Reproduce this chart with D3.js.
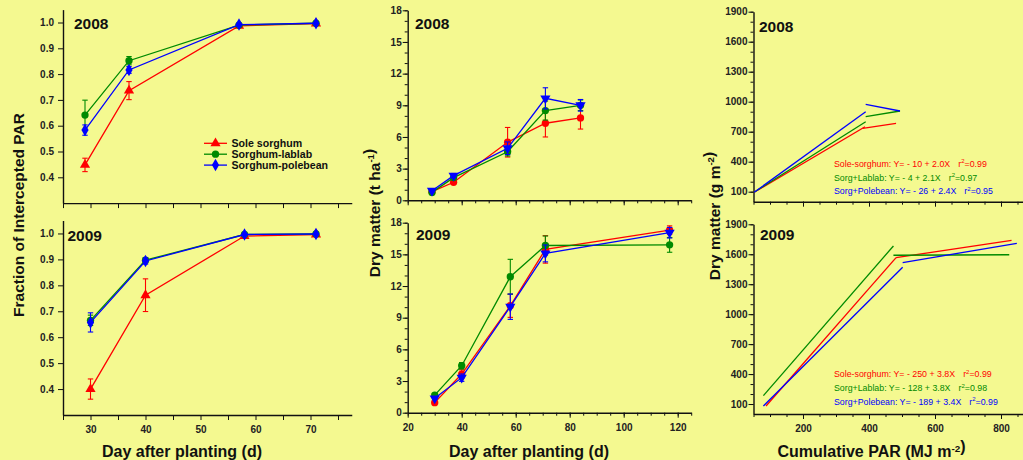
<!DOCTYPE html>
<html>
<head>
<meta charset="utf-8">
<script src="https://cdn.jsdelivr.net/npm/d3@7"></script>
<style>
  body { margin: 0; background: #f4f990; }
  svg { display: block; font-family: Arial, "Liberation Sans", sans-serif; }
</style>
</head>
<body>
<svg id="chart" width="1023" height="460"></svg>
<script>
// fraction of intercepted PAR
const dapFI2008 = [29, 37, 57, 71];
const dapFI2009 = [30, 40, 58, 71];
const fiSole2008 = [0.448, 0.736, 0.987, 0.996];
const fiSoleErr2008 = [0.026, 0.035, 0.004, 0.002];
const fiLablab2008 = [0.641, 0.852, 0.990, 0.997];
const fiLablabErr2008 = [0.058, 0.016, 0.004, 0.002];
const fiPole2008 = [0.583, 0.816, 0.992, 0.997];
const fiPoleErr2008 = [0.020, 0.013, 0.004, 0.002];
const fiSole2009 = [0.400, 0.762, 0.990, 0.996];
const fiSoleErr2009 = [0.039, 0.063, 0.004, 0.002];
const fiLablab2009 = [0.665, 0.897, 0.996, 0.998];
const fiLablabErr2009 = [0.020, 0.010, 0.003, 0.002];
const fiPole2009 = [0.657, 0.894, 0.996, 0.998];
const fiPoleErr2009 = [0.037, 0.012, 0.003, 0.002];

// dry matter (t/ha)
const dapDM2008 = [29, 37, 57, 71, 84];
const dapDM2009 = [30, 40, 58, 71, 117];
const dmSole2008 = [0.82, 1.71, 5.5, 7.3, 7.8];
const dmSoleErr2008 = [0.1, 0.15, 1.4, 1.3, 1.05];
const dmLablab2008 = [0.75, 2.15, 4.6, 8.5, 9.0];
const dmLablabErr2008 = [0.1, 0.2, 0.4, 0.9, 0.5];
const dmPole2008 = [0.9, 2.34, 4.93, 9.66, 9.0];
const dmPoleErr2008 = [0.1, 0.2, 0.6, 1.0, 0.55];
const dmSole2009 = [0.95, 3.66, 10.13, 15.47, 17.3];
const dmSoleErr2009 = [0.1, 0.4, 1.1, 1.3, 0.4];
const dmLablab2009 = [1.67, 4.45, 12.88, 15.84, 15.9];
const dmLablabErr2009 = [0.1, 0.3, 1.65, 0.9, 0.7];
const dmPole2009 = [1.36, 3.32, 10.04, 15.09, 17.05];
const dmPoleErr2009 = [0.1, 0.35, 1.2, 0.8, 0.5];

// fitted dry matter (g/m2) vs cumulative PAR, two segments each [PAR, DM]
const rueSole2008 = [[[52, 94], [388, 750]], [[381, 734], [482, 784]]];
const rueLablab2008 = [[[52, 94], [390, 800]], [[390, 850], [494, 907]]];
const ruePole2008 = [[[52, 94], [390, 900]], [[390, 974], [494, 907]]];
const rueSole2009 = [[[88, 80], [482, 1566]], [[482, 1566], [832, 1740]]];
const rueLablab2009 = [[[80, 184], [474, 1683]], [[474, 1590], [825, 1595]]];
const ruePole2009 = [[[80, 80], [502, 1469]], [[502, 1516], [848, 1710]]];

const eq2008 = ['Sole-sorghum: Y= - 10 + 2.0X', 'Sorg+Lablab: Y= - 4 + 2.1X', 'Sorg+Polebean: Y= - 26 + 2.4X'];
const r2008 = ['0.99', '0.97', '0.95'];
const eq2009 = ['Sole-sorghum: Y= - 250 + 3.8X', 'Sorg+Lablab: Y= - 128 + 3.8X', 'Sorg+Polebean: Y= - 189 + 3.4X'];
const r2009 = ['0.99', '0.98', '0.99'];

const legendNames = ['Sole sorghum', 'Sorghum-lablab', 'Sorghum-polebean'];
const colors = ['#ff0000', '#008a00', '#0000ff'];

const svg = d3.select('#chart');
svg.append('rect').attr('width', 1023).attr('height', 460).attr('fill', '#f4f990');

function addAxis(x, y, side, major, minor, fmt, labelled, pad) {
  const scale = side === 'left' ? y : x;
  const make = side === 'left' ? d3.axisLeft : d3.axisBottom;
  const tr = side === 'left' ? `translate(${x.range()[0]},0)` : `translate(0,${y.range()[0]})`;
  if (minor) {
    const gm = svg.append('g').attr('transform', tr)
      .call(make(scale).tickValues(minor).tickSize(3).tickFormat(''));
    gm.select('.domain').remove();
    gm.selectAll('line').attr('stroke', '#111');
  }
  const g = svg.append('g').attr('transform', tr)
    .call(make(scale).tickValues(major).tickSize(5).tickSizeOuter(0)
      .tickPadding(pad).tickFormat(labelled ? fmt : () => ''));
  g.select('.domain').attr('stroke', '#111').attr('stroke-width', 1.4);
  g.selectAll('line').attr('stroke', '#111');
  g.selectAll('text').attr('font-size', 10).attr('font-weight', 'bold')
    .attr('fill', '#222').attr('font-family', 'Arial, "Liberation Sans", sans-serif');
}

const symbols = {
  tri: d3.symbol().type(d3.symbolTriangle).size(45),
  triDown: d3.symbol().type(d3.symbolTriangle).size(45),
  circle: d3.symbol().type(d3.symbolCircle).size(42),
  diamond: d3.symbol().type(d3.symbolDiamond).size(45)
};

function drawSeries(x, y, days, vals, errs, color, sym) {
  const pts = days.map((d, i) => ({ d: d, v: vals[i], e: errs[i] }));
  const g = svg.append('g');
  g.append('path').datum(pts)
    .attr('fill', 'none').attr('stroke', color).attr('stroke-width', 1.3)
    .attr('d', d3.line().x(p => x(p.d)).y(p => y(p.v)));
  const eb = g.selectAll('g.err').data(pts).enter().append('g')
    .attr('stroke', color).attr('stroke-width', 1.1);
  eb.append('line').attr('x1', p => x(p.d)).attr('x2', p => x(p.d))
    .attr('y1', p => y(p.v - p.e)).attr('y2', p => y(p.v + p.e));
  eb.append('line').attr('x1', p => x(p.d) - 2.7).attr('x2', p => x(p.d) + 2.7)
    .attr('y1', p => y(p.v - p.e)).attr('y2', p => y(p.v - p.e));
  eb.append('line').attr('x1', p => x(p.d) - 2.7).attr('x2', p => x(p.d) + 2.7)
    .attr('y1', p => y(p.v + p.e)).attr('y2', p => y(p.v + p.e));
  g.selectAll('path.m').data(pts).enter().append('path')
    .attr('d', symbols[sym]).attr('fill', color)
    .attr('transform', p => `translate(${x(p.d)},${y(p.v)})${sym === 'triDown' ? ' rotate(180)' : ''}`);
}

function yearLabel(txt, px, py) {
  svg.append('text').attr('x', px).attr('y', py).text(txt)
    .attr('font-size', 15.5).attr('font-weight', 'bold').attr('fill', '#111');
}

// ---- column 1: fraction of intercepted PAR
const xFI = d3.scaleLinear().domain([25, 77.5]).range([63, 351.75]);
const yFItop = d3.scaleLinear().domain([0.3, 1.05]).range([203.1, 9.6]);
const yFIbot = d3.scaleLinear().domain([0.3, 1.05]).range([415, 220.5]);
const fiTicks = [0.4, 0.5, 0.6, 0.7, 0.8, 0.9, 1.0];
const fiXTicks = d3.range(25, 80, 5);
[[yFItop, false], [yFIbot, true]].forEach(([y, lab]) => {
  addAxis(xFI, y, 'left', fiTicks, null, d3.format('.1f'), true, 4);
  addAxis(xFI, y, 'bottom', fiXTicks, null, d => (d % 10 === 0 ? d : ''), lab, 6);
});
drawSeries(xFI, yFItop, dapFI2008, fiSole2008, fiSoleErr2008, colors[0], 'tri');
drawSeries(xFI, yFItop, dapFI2008, fiLablab2008, fiLablabErr2008, colors[1], 'circle');
drawSeries(xFI, yFItop, dapFI2008, fiPole2008, fiPoleErr2008, colors[2], 'diamond');
drawSeries(xFI, yFIbot, dapFI2009, fiSole2009, fiSoleErr2009, colors[0], 'tri');
drawSeries(xFI, yFIbot, dapFI2009, fiLablab2009, fiLablabErr2009, colors[1], 'circle');
drawSeries(xFI, yFIbot, dapFI2009, fiPole2009, fiPoleErr2009, colors[2], 'diamond');
yearLabel('2008', 74, 28.5);
yearLabel('2009', 67.5, 241);

// legend
const legSyms = ['tri', 'circle', 'diamond'];
legendNames.forEach((name, i) => {
  const ly = 143.3 + i * 10.9;
  svg.append('line').attr('x1', 204).attr('x2', 227).attr('y1', ly).attr('y2', ly)
    .attr('stroke', colors[i]).attr('stroke-width', 1.3);
  svg.append('path').attr('d', symbols[legSyms[i]]).attr('fill', colors[i])
    .attr('transform', `translate(215.5,${ly})`);
  svg.append('text').attr('x', 231.5).attr('y', ly + 3.7).text(name)
    .attr('font-size', 10.6).attr('font-weight', 'bold').attr('fill', '#111');
});

// ---- column 2: dry matter
const xDM = d3.scaleLinear().domain([20, 125]).range([407.7, 691.2]);
const yDMtop = d3.scaleLinear().domain([0, 18]).range([200.3, 10.3]);
const yDMbot = d3.scaleLinear().domain([0, 18]).range([412.7, 222.7]);
[[yDMtop, false], [yDMbot, true]].forEach(([y, lab]) => {
  addAxis(xDM, y, 'left', d3.range(0, 19, 3), d3.range(0, 19, 1), d3.format('d'), true, 1);
  addAxis(xDM, y, 'bottom', d3.range(20, 121, 20), d3.range(20, 126, 5), d3.format('d'), lab, 6);
});
drawSeries(xDM, yDMtop, dapDM2008, dmSole2008, dmSoleErr2008, colors[0], 'circle');
drawSeries(xDM, yDMtop, dapDM2008, dmLablab2008, dmLablabErr2008, colors[1], 'circle');
drawSeries(xDM, yDMtop, dapDM2008, dmPole2008, dmPoleErr2008, colors[2], 'triDown');
drawSeries(xDM, yDMbot, dapDM2009, dmSole2009, dmSoleErr2009, colors[0], 'circle');
drawSeries(xDM, yDMbot, dapDM2009, dmLablab2009, dmLablabErr2009, colors[1], 'circle');
drawSeries(xDM, yDMbot, dapDM2009, dmPole2009, dmPoleErr2009, colors[2], 'triDown');
yearLabel('2008', 415, 29);
yearLabel('2009', 416, 239.5);

// ---- column 3: dry matter vs cumulative PAR
const xPAR = d3.scaleLinear().domain([50, 870]).range([753.5, 1024.1]);
const yPARtop = d3.scaleLinear().domain([0, 1900]).range([201.7, 11.7]);
const yPARbot = d3.scaleLinear().domain([0, 1900]).range([414, 224.3]);
[[yPARtop, false], [yPARbot, true]].forEach(([y, lab]) => {
  addAxis(xPAR, y, 'left', d3.range(100, 1901, 300), d3.range(100, 1901, 100), d3.format('d'), true, 1);
  addAxis(xPAR, y, 'bottom', [200, 400, 600, 800], d3.range(50, 870, 50), d3.format('d'), lab, 6);
});
const rueLine = (x, y) => d3.line().x(p => x(p[0])).y(p => y(p[1]));
[[rueSole2008, rueLablab2008, ruePole2008, yPARtop], [rueSole2009, rueLablab2009, ruePole2009, yPARbot]]
  .forEach(([a, b, c, y]) => {
    [a, b, c].forEach((segs, i) => {
      segs.forEach(s => svg.append('path').datum(s).attr('fill', 'none')
        .attr('stroke', colors[i]).attr('stroke-width', 1.3).attr('d', rueLine(xPAR, y)));
    });
  });

function equations(eqs, r2s, baseY) {
  eqs.forEach((eq, i) => {
    const t = svg.append('text').attr('x', 834).attr('y', baseY + i * 13.7)
      .attr('font-size', 8.8).attr('fill', colors[i]);
    t.append('tspan').text(eq);
    t.append('tspan').attr('dx', 8).text('r');
    t.append('tspan').attr('dy', -3.5).attr('font-size', 6).text('2');
    t.append('tspan').attr('dy', 3.5).text('=' + r2s[i]);
  });
}
equations(eq2008, r2008, 166.8);
equations(eq2009, r2009, 377.3);
yearLabel('2008', 759, 32);
yearLabel('2009', 760, 239.5);

// ---- axis titles
function title(x, y, rot, size, parts) {
  const t = svg.append('text').attr('text-anchor', 'middle')
    .attr('transform', `translate(${x},${y}) rotate(${rot})`)
    .attr('font-size', size).attr('font-weight', 'bold').attr('fill', '#111');
  parts.forEach(p => {
    if (p.sup) {
      t.append('tspan').attr('dy', -5.5).attr('font-size', size * 0.62).text(p.sup);
      t.append('tspan').attr('dy', 5.5).text('');
    } else {
      t.append('tspan').text(p.t);
    }
  });
}
title(24, 215, -90, 15.5, [{ t: 'Fraction of Intercepted PAR' }]);
title(379.5, 213, -90, 15.5, [{ t: 'Dry matter (t ha' }, { sup: '-1' }, { t: ')' }]);
title(719.5, 216, -90, 15.5, [{ t: 'Dry matter (g m' }, { sup: '-2' }, { t: ')' }]);
title(182, 457, 0, 16, [{ t: 'Day after planting (d)' }]);
title(529, 457, 0, 16, [{ t: 'Day after planting (d)' }]);
title(871.5, 457, 0, 16, [{ t: 'Cumulative PAR (MJ m' }, { sup: '-2' }, { t: ')' }]);
</script>
</body>
</html>
